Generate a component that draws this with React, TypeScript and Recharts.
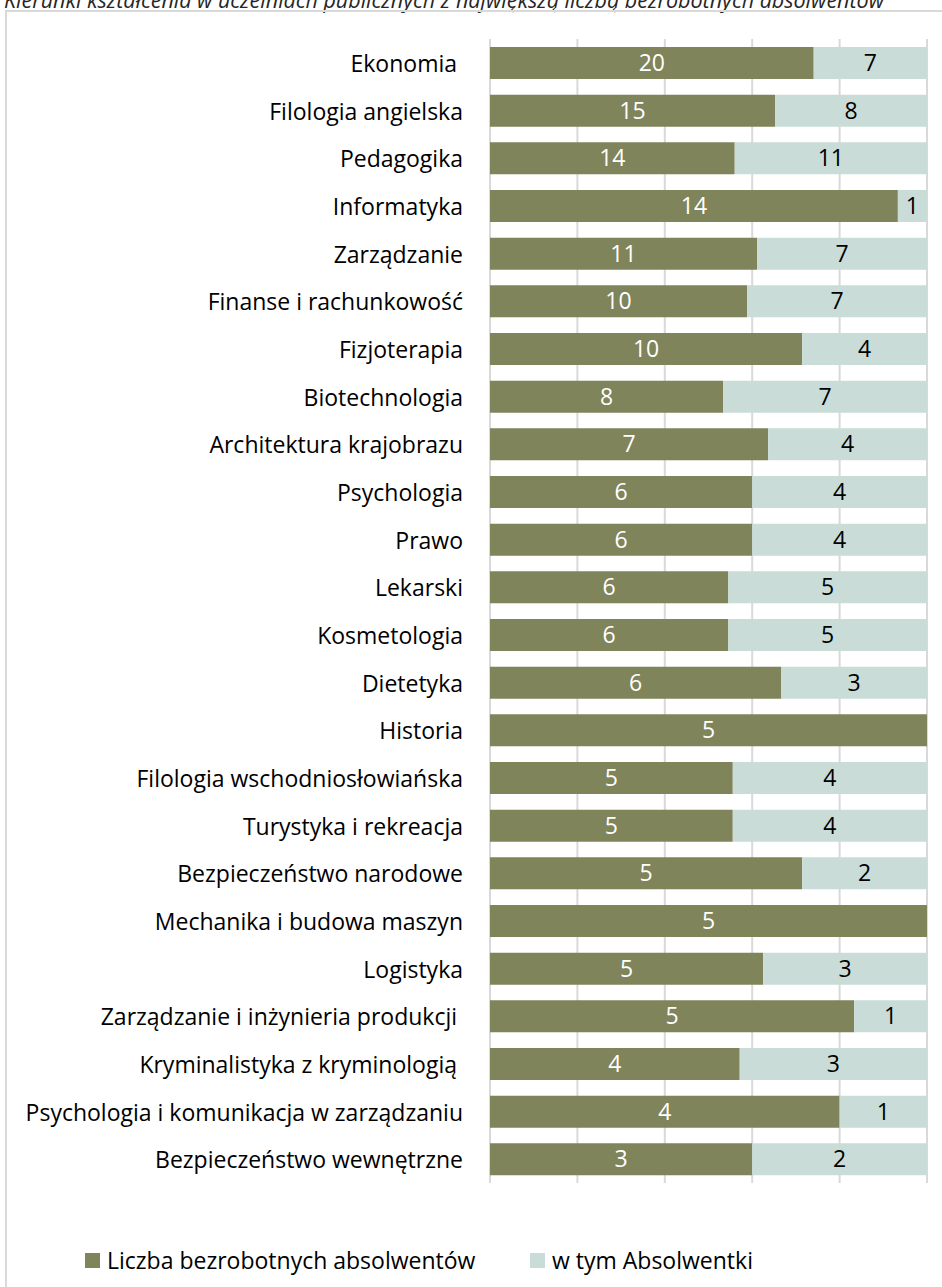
import React from "react";
import {
  BarChart,
  Bar,
  XAxis,
  YAxis,
  CartesianGrid,
  LabelList,
  Legend,
} from "recharts";

const categories = [
  "Ekonomia ",
  "Filologia angielska",
  "Pedagogika",
  "Informatyka",
  "Zarządzanie",
  "Finanse i rachunkowość",
  "Fizjoterapia",
  "Biotechnologia",
  "Architektura krajobrazu",
  "Psychologia",
  "Prawo",
  "Lekarski",
  "Kosmetologia",
  "Dietetyka",
  "Historia",
  "Filologia wschodniosłowiańska",
  "Turystyka i rekreacja",
  "Bezpieczeństwo narodowe",
  "Mechanika i budowa maszyn",
  "Logistyka",
  "Zarządzanie i inżynieria produkcji ",
  "Kryminalistyka z kryminologią ",
  "Psychologia i komunikacja w zarządzaniu",
  "Bezpieczeństwo wewnętrzne",
];

const unemployed = [20, 15, 14, 14, 11, 10, 10, 8, 7, 6, 6, 6, 6, 6, 5, 5, 5, 5, 5, 5, 5, 4, 4, 3];
const women = [7, 8, 11, 1, 7, 7, 4, 7, 4, 4, 4, 5, 5, 3, 0, 4, 4, 2, 0, 3, 1, 3, 1, 2];

const seriesNames = ["Liczba bezrobotnych absolwentów", "w tym Absolwentki"];
const xTicks = [0, 0.2, 0.4, 0.6, 0.8, 1];

const GREEN = "#7f845a";
const LIGHT = "#cadcd7";
const FONT = "'Open Sans', sans-serif";

const data = categories.map((name, i) => ({
  name,
  unemployed: unemployed[i],
  women: women[i],
}));

const CategoryTick = (props: any) => {
  const { x, y, payload } = props;
  return (
    <text
      x={x - 19}
      y={y}
      textAnchor="end"
      dominantBaseline="central"
      fontFamily={FONT}
      fontSize={23}
      fill="#000"
      style={{ whiteSpace: "pre" }}
    >
      {payload.value}
    </text>
  );
};

const hideZero = (v: any) => (v === 0 ? "" : v);

const LegendContent = () => {
  const items = [
    { label: seriesNames[0], color: GREEN, x: 85 },
    { label: seriesNames[1], color: LIGHT, x: 530 },
  ];
  return (
    <div style={{ position: "relative", height: 20, fontFamily: FONT, fontSize: 23 }}>
      {items.map((it) => (
        <div
          key={it.label}
          style={{
            position: "absolute",
            left: it.x,
            top: 0,
            display: "flex",
            alignItems: "center",
            whiteSpace: "nowrap",
            color: "#000",
          }}
        >
          <span style={{ width: 15, height: 15, background: it.color, marginRight: 7, display: "inline-block" }} />
          <span>{it.label}</span>
        </div>
      ))}
    </div>
  );
};

export default function App() {
  return (
    <div style={{ position: "absolute", left: 0, top: 0, width: 942, height: 1287, overflow: "hidden", background: "#fff" }}>
      <div
        style={{
          position: "absolute",
          left: 4,
          top: -11,
          fontFamily: FONT,
          fontStyle: "italic",
          fontSize: 21.5,
          lineHeight: "22px",
          color: "#262626",
          whiteSpace: "nowrap",
        }}
      >
        Kierunki kształcenia w uczelniach publicznych z największą liczbą bezrobotnych absolwentów
      </div>
      <div
        style={{
          position: "absolute",
          left: 5,
          top: 10,
          width: 1000,
          height: 1400,
          border: "2px solid #d9d9d9",
        }}
      />
      <div style={{ position: "absolute", left: 0, top: 0 }}>
        <BarChart
          width={942}
          height={1287}
          data={data}
          layout="vertical"
          stackOffset="expand"
          barSize={32}
          margin={{ top: 39, right: 15, bottom: 84, left: 0 }}
        >
          <CartesianGrid horizontal={false} stroke="#d9d9d9" strokeWidth={2} />
          <XAxis type="number" domain={[0, 1]} ticks={xTicks} hide />
          <YAxis
            type="category"
            dataKey="name"
            width={490}
            axisLine={false}
            tickLine={false}
            tick={<CategoryTick />}
            interval={0}
          />
          <Legend
            verticalAlign="bottom"
            wrapperStyle={{ position: "absolute", left: 0, top: 1244, width: 942 }}
            content={<LegendContent />}
          />
          <Bar dataKey="unemployed" name={seriesNames[0]} stackId="a" fill={GREEN} isAnimationActive={false}>
            <LabelList
              dataKey="unemployed"
              position="center"
              fill="#fff"
              fontSize={23}
              fontFamily={FONT}
              formatter={hideZero}
            />
          </Bar>
          <Bar dataKey="women" name={seriesNames[1]} stackId="a" fill={LIGHT} isAnimationActive={false}>
            <LabelList
              dataKey="women"
              position="center"
              fill="#000"
              fontSize={23}
              fontFamily={FONT}
              formatter={hideZero}
            />
          </Bar>
        </BarChart>
      </div>
    </div>
  );
}
